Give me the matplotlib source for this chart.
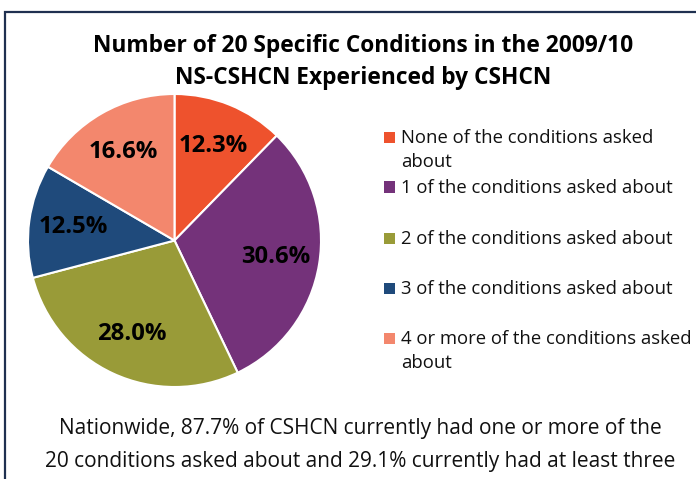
import matplotlib
matplotlib.use("Agg")
import matplotlib.pyplot as plt
from matplotlib.patches import Rectangle

plt.rcParams['font.family'] = ['Open Sans', 'DejaVu Sans']

title = "Number of 20 Specific Conditions in the 2009/10\nNS-CSHCN Experienced by CSHCN"
categories = ["None of the conditions asked\nabout",
              "1 of the conditions asked about",
              "2 of the conditions asked about",
              "3 of the conditions asked about",
              "4 or more of the conditions asked\nabout"]
values = [12.3, 30.6, 28.0, 12.5, 16.6]
colors = ["#EE522D", "#74327A", "#999B38", "#1F4A7B", "#F3876D"]
caption = ("Nationwide, 87.7% of CSHCN currently had one or more of the\n"
           "20 conditions asked about and 29.1% currently had at least three")

W, H = 696, 479
fig = plt.figure(figsize=(W/100, H/100), dpi=100)

# border box (extends beyond right/bottom edges)
fig.patches.append(Rectangle((5/W, -0.1), 1.1, (H-12)/H + 0.1, transform=fig.transFigure,
                             fill=False, edgecolor="#1F3050", linewidth=1.6))

fig.text(363/W, 1-62/H, title, ha='center', va='center', fontsize=16.4,
         fontweight='bold', linespacing=1.5, color='black')

# pie
cx, cy, r = 174.5, 240.5, 146.5
ax = fig.add_axes([(cx-r)/W, 1-(cy+r)/H, 2*r/W, 2*r/H])
wedges, texts, autotexts = ax.pie(values, colors=colors, startangle=90, counterclock=False,
       autopct='%.1f%%', pctdistance=0.7, radius=1,
       wedgeprops=dict(edgecolor='white', linewidth=1.5),
       textprops=dict(fontsize=17.2, fontweight='bold', color='black'))
ax.set_xlim(-1, 1); ax.set_ylim(-1, 1)
ax.set_aspect('equal')
ax.axis('off')

# legend
ys = [137, 187, 238, 288, 338]
for lab, col, y in zip(categories, colors, ys):
    fig.patches.append(Rectangle((384/W, 1-(y+5.5)/H), 11/W, 11/H, transform=fig.transFigure,
                                 facecolor=col, edgecolor='none'))
    fig.text(401/W, 1-(y-8)/H, lab, ha='left', va='top', fontsize=13.3,
             linespacing=1.45, color='#111111')

fig.text(360/W, 1-445/H, caption, ha='center', va='center', fontsize=15,
         linespacing=1.8, color='#111111')

fig.savefig("out.png", dpi=100)
